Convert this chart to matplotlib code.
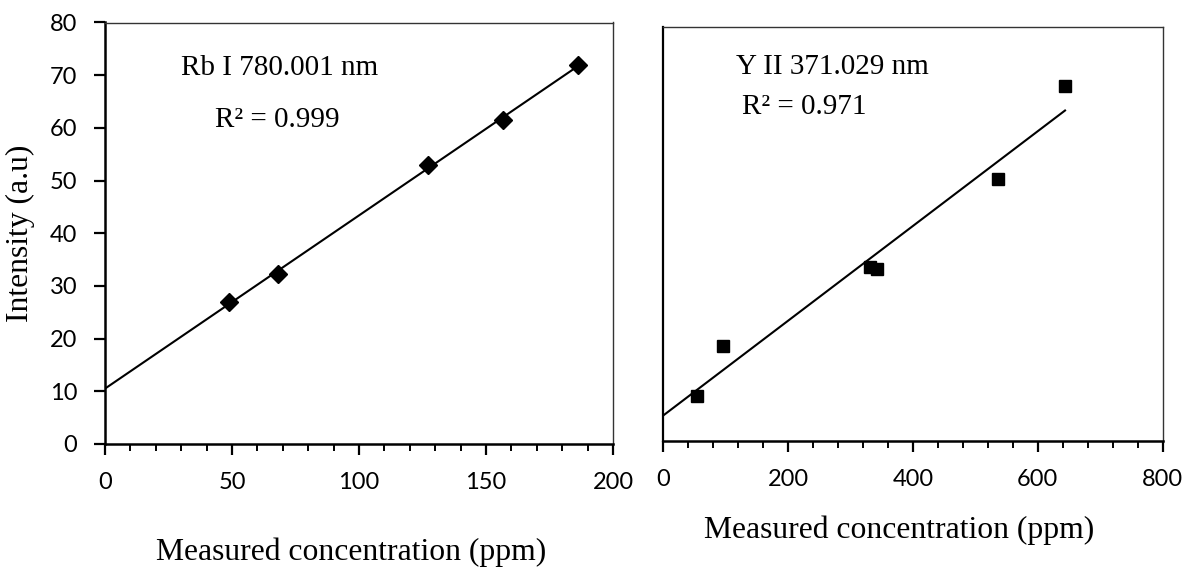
import numpy as np
import matplotlib
matplotlib.use("Agg")
import matplotlib.pyplot as plt
from matplotlib.ticker import MultipleLocator

# ---- data ----
rb_conc = [48.8, 68.3, 127.3, 156.6, 186.2]
rb_int = [27.0, 32.3, 52.9, 61.5, 71.9]
y_conc = [54.4, 96.0, 330.7, 343.0, 536.6, 643.8]
y_int = [8.6, 18.4, 33.7, 33.2, 50.6, 68.6]
rb_label = "Rb I 780.001 nm"
rb_r2 = "R² = 0.999"
y_label = "Y II 371.029 nm"
y_r2 = "R² = 0.971"
xlabel = "Measured concentration (ppm)"
ylabel = "Intensity (a.u)"

W, H = 1188, 569
fig = plt.figure(figsize=(W / 100, H / 100), dpi=100)
serif = ["Liberation Serif", "DejaVu Serif"]
sans = ["Lato", "DejaVu Sans"]
TS = 21
LS = 22.8
KS = 17


def px_axes(x0, y0, x1, y1):
    return fig.add_axes([x0 / W, 1 - y1 / H, (x1 - x0) / W, (y1 - y0) / H])


def ftext(x, y, s, size=TS, **kw):
    fig.text(x / W, 1 - y / H, s, family=serif, fontsize=size, ha="center", va="center", **kw)


def style(ax):
    for side in ("left", "bottom"):
        ax.spines[side].set_linewidth(1.8)
        ax.spines[side].set_color("black")
    for side in ("top", "right"):
        ax.spines[side].set_linewidth(1.0)
        ax.spines[side].set_color("#333333")
    ax.tick_params(which="major", direction="out", length=8, width=1.6, pad=12, labelsize=KS)
    ax.tick_params(which="minor", direction="out", length=5, width=1.4)
    for lab in ax.get_xticklabels() + ax.get_yticklabels():
        lab.set_family(sans)


# ---- left panel ----
ax1 = px_axes(105, 22.5, 613, 444)
ax1.set_xlim(0, 200)
ax1.set_ylim(0, 80)
ax1.xaxis.set_major_locator(MultipleLocator(50))
ax1.xaxis.set_minor_locator(MultipleLocator(10))
ax1.yaxis.set_major_locator(MultipleLocator(10))
ax1.yaxis.set_minor_locator(MultipleLocator(100))
style(ax1)
m, b = np.polyfit(rb_conc, rb_int, 1)
xx = np.array([0, max(rb_conc)])
ax1.plot(xx, m * xx + b, color="black", lw=1.5, zorder=2)
ax1.plot(rb_conc, rb_int, linestyle="none", marker="D", ms=9, color="black", zorder=3)

# ---- right panel ----
ax2 = px_axes(663.3, 27, 1162.5, 441)
ax2.set_xlim(0, 800)
ax2.set_ylim(0, 80)
ax2.xaxis.set_major_locator(MultipleLocator(200))
ax2.xaxis.set_minor_locator(MultipleLocator(40))
style(ax2)
ax2.spines["left"].set_linewidth(1.6)
ax2.set_yticks([])
m2, b2 = np.polyfit(y_conc, y_int, 1)
xx2 = np.array([0, max(y_conc)])
ax2.plot(xx2, m2 * xx2 + b2, color="black", lw=1.5, zorder=2)
ax2.plot(y_conc, y_int, linestyle="none", marker="s", ms=8.5, color="black", zorder=3)

# ---- texts ----
ftext(280, 68, rb_label)
ftext(277, 120, rb_r2)
ftext(832, 66.7, y_label)
ftext(804, 106.7, y_r2)
ftext(351, 552, xlabel, size=LS)
ftext(899, 530, xlabel, size=LS)
ftext(20, 233, ylabel, size=LS, rotation=90)

fig.savefig("out.png", dpi=100)
